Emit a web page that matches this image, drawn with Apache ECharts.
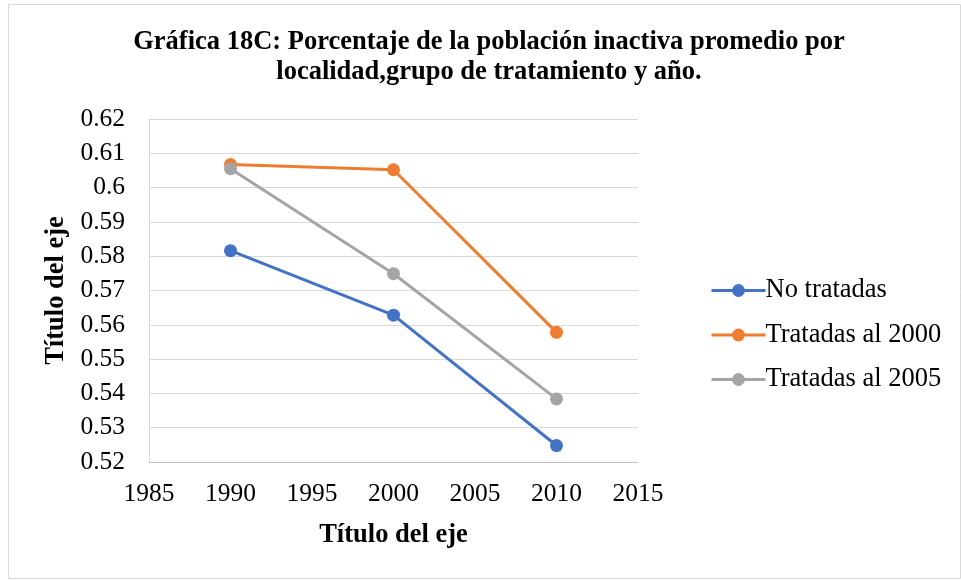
<!DOCTYPE html>
<html>
<head>
<meta charset="utf-8">
<script src="https://cdn.jsdelivr.net/npm/echarts@6/dist/echarts.min.js"></script>
<style>
  html, body { margin: 0; padding: 0; background: #fff; }
  #chart { width: 961px; height: 580px; }
</style>
</head>
<body>
<div id="chart"></div>
<script>
// Years observed and average share of inactive population per group
const years = [1990, 2000, 2010];
const noTratadas = [0.5816, 0.5628, 0.5248];
const tratadas2000 = [0.6067, 0.6052, 0.5578];
const tratadas2005 = [0.6055, 0.5749, 0.5384];
const seriesNames = ['No tratadas', 'Tratadas al 2000', 'Tratadas al 2005'];
const seriesColors = ['#4472C4', '#ED7D31', '#A5A5A5'];

const FONT = '"Liberation Serif", "Times New Roman", serif';

function pairs(vals) {
  return years.map((y, i) => [y, vals[i]]);
}

const chart = echarts.init(document.getElementById('chart'), null, { renderer: 'canvas' });

chart.setOption({
  animation: false,
  backgroundColor: '#ffffff',
  textStyle: { fontFamily: FONT },
  title: {
    text: 'Gráfica 18C: Porcentaje de la población inactiva promedio por\nlocalidad,grupo de tratamiento y año.',
    left: 484,
    top: 22,
    textAlign: 'center',
    textStyle: {
      fontFamily: FONT,
      fontWeight: 'bold',
      fontSize: 26.5,
      lineHeight: 30,
      color: '#000'
    }
  },
  graphic: [{
    type: 'rect',
    silent: true,
    shape: { x: 8.5, y: 4.5, width: 952, height: 574 },
    style: { fill: 'none', stroke: '#d9d9d9', lineWidth: 1 }
  }],
  grid: { left: 149, right: 323, top: 119, bottom: 118 },
  legend: {
    orient: 'vertical',
    left: 705,
    top: 272,
    itemWidth: 54,
    itemHeight: 16,
    itemGap: 17.5,
    data: seriesNames,
    lineStyle: { width: 3 },
    textStyle: { fontFamily: FONT, fontSize: 26.5, color: '#000', padding: [0, 0, 0, -5] }
  },
  xAxis: {
    type: 'value',
    min: 1985,
    max: 2015,
    interval: 5,
    name: 'Título del eje',
    nameLocation: 'middle',
    nameGap: 60,
    nameTextStyle: { fontFamily: FONT, fontWeight: 'bold', fontSize: 26.5, color: '#000' },
    axisLine: { show: true, lineStyle: { color: '#bfbfbf', width: 1 } },
    axisTick: { show: false },
    splitLine: { show: false },
    axisLabel: { fontFamily: FONT, fontSize: 25.5, color: '#000', margin: 19, formatter: v => String(v) }
  },
  yAxis: {
    type: 'value',
    min: 0.52,
    max: 0.62,
    interval: 0.01,
    name: 'Título del eje',
    nameLocation: 'middle',
    nameGap: 77,
    nameTextStyle: { fontFamily: FONT, fontWeight: 'bold', fontSize: 26.5, color: '#000' },
    axisLine: { show: true, lineStyle: { color: '#d9d9d9', width: 1 } },
    axisTick: { show: false },
    splitLine: { show: true, lineStyle: { color: '#d9d9d9', width: 1 } },
    axisLabel: {
      fontFamily: FONT, fontSize: 25.5, color: '#000', margin: 24,
      formatter: v => String(parseFloat(v.toFixed(2)))
    }
  },
  series: [
    { name: seriesNames[0], data: pairs(noTratadas) },
    { name: seriesNames[1], data: pairs(tratadas2000) },
    { name: seriesNames[2], data: pairs(tratadas2005) }
  ].map((s, i) => Object.assign(s, {
    type: 'line',
    symbol: 'circle',
    symbolSize: 13,
    color: seriesColors[i],
    lineStyle: { width: 3, color: seriesColors[i] },
    itemStyle: { color: seriesColors[i] }
  }))
});
</script>
</body>
</html>
